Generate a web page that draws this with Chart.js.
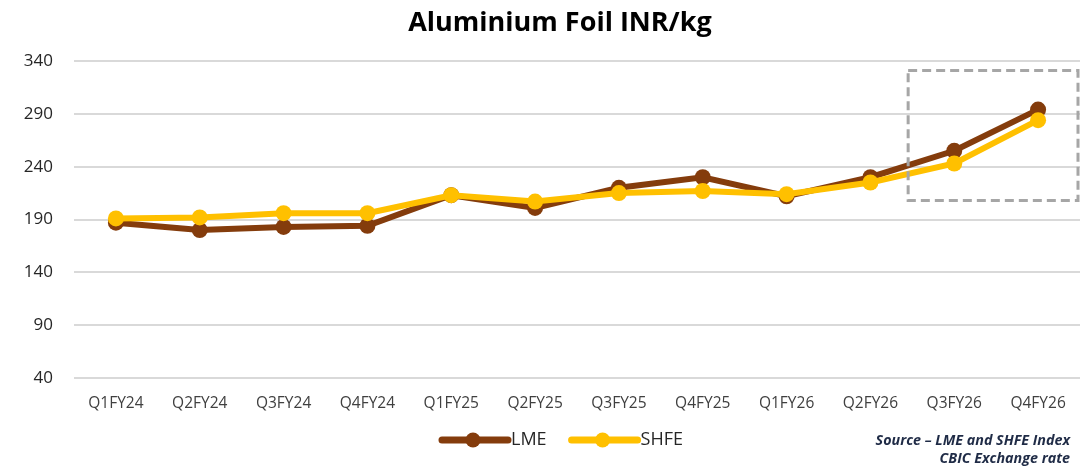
<!DOCTYPE html>
<html>
<head>
<meta charset="utf-8">
<script src="https://cdn.jsdelivr.net/npm/chart.js@4.4.1/dist/chart.umd.min.js"></script>
<style>
  html, body { margin: 0; padding: 0; background: #fff; }
  #wrap { position: relative; width: 1088px; height: 467px; }
  #source {
    position: absolute; right: 18px; top: 431px;
    font-family: "Open Sans", sans-serif; font-size: 14.3px; font-weight: bold; font-style: italic;
    color: #1f2b46; text-align: right; line-height: 18px;
  }
</style>
</head>
<body>
<div id="wrap">
  <canvas id="foilChart" width="1088" height="467"></canvas>
  <div id="source">Source – LME and SHFE Index<br>CBIC Exchange rate</div>
</div>
<script>
// データ
const chartTitle = 'Aluminium Foil INR/kg';
const quarters = ['Q1FY24', 'Q2FY24', 'Q3FY24', 'Q4FY24', 'Q1FY25', 'Q2FY25',
  'Q3FY25', 'Q4FY25', 'Q1FY26', 'Q2FY26', 'Q3FY26', 'Q4FY26'];
const lmeValues = [187, 180, 183, 184, 213, 201, 220, 230, 212, 230, 255, 294];
const shfeValues = [191, 192, 196, 196, 213, 207, 215, 217, 214, 225, 243, 284];
const yTicks = [40, 90, 140, 190, 240, 290, 340];

// 強調枠 (Q2FY26〜Q4FY26 の間, 値 208〜331)
const highlightBox = { fromIndex: 9.45, yLow: 208, yHigh: 331 };

const baseFont = '"Open Sans", "Noto Sans", sans-serif';

// タイトル・枠・凡例を描くプラグイン
const extrasPlugin = {
  id: 'extras',
  afterDraw(chart) {
    const ctx = chart.ctx;
    const xs = chart.scales.x;
    const ys = chart.scales.y;
    const area = chart.chartArea;

    // title
    ctx.save();
    ctx.font = 'bold 27px ' + baseFont;
    ctx.fillStyle = '#000';
    ctx.textAlign = 'center';
    ctx.textBaseline = 'middle';
    ctx.fillText(chartTitle, 560, 23);
    ctx.restore();

    // dashed box
    const x0 = xs.getPixelForValue(highlightBox.fromIndex);
    const y0 = ys.getPixelForValue(highlightBox.yHigh);
    const y1 = ys.getPixelForValue(highlightBox.yLow);
    ctx.save();
    ctx.strokeStyle = '#a6a6a6';
    ctx.lineWidth = 3;
    ctx.setLineDash([9, 5]);
    ctx.strokeRect(x0, y0, area.right - x0 - 2, y1 - y0);
    ctx.restore();

    // legend
    const items = chart.data.datasets;
    const legendY = 440;
    let lx = 442;
    ctx.save();
    ctx.font = '18px ' + baseFont;
    ctx.textBaseline = 'middle';
    items.forEach(ds => {
      ctx.strokeStyle = ds.borderColor;
      ctx.lineWidth = 7;
      ctx.lineCap = 'round';
      ctx.beginPath();
      ctx.moveTo(lx, legendY);
      ctx.lineTo(lx + 66, legendY);
      ctx.stroke();
      ctx.fillStyle = ds.borderColor;
      ctx.beginPath();
      ctx.arc(lx + 31, legendY, 7.5, 0, Math.PI * 2);
      ctx.fill();
      ctx.fillStyle = '#262626';
      ctx.fillText(ds.label, lx + 69, legendY);
      lx += 69 + ctx.measureText(ds.label).width + 25;
    });
    ctx.restore();
  }
};

const ctx = document.getElementById('foilChart').getContext('2d');
const foilChart = new Chart(ctx, {
  type: 'line',
  data: {
    labels: quarters,
    datasets: [
      {
        label: 'LME',
        data: lmeValues,
        borderColor: '#843c0c',
        backgroundColor: '#843c0c',
        borderWidth: 6,
        pointRadius: 8,
        pointBorderWidth: 0,
        tension: 0,
        order: 2
      },
      {
        label: 'SHFE',
        data: shfeValues,
        borderColor: '#ffc000',
        backgroundColor: '#ffc000',
        borderWidth: 6,
        pointRadius: 8,
        pointBorderWidth: 0,
        tension: 0,
        order: 1
      }
    ]
  },
  options: {
    responsive: false,
    animation: false,
    layout: { padding: { left: 0, right: 8, top: 61, bottom: 0 } },
    plugins: {
      legend: { display: false },
      tooltip: { enabled: false },
      title: { display: false }
    },
    scales: {
      x: {
        offset: true,
        grid: { display: false, drawTicks: false },
        border: { display: false },
        ticks: { color: '#404040', font: { family: baseFont, size: 15.5 }, padding: 16, maxRotation: 0 },
        afterFit(scale) { scale.height = 89; }
      },
      y: {
        min: 40,
        max: 340,
        afterBuildTicks(scale) { scale.ticks = yTicks.map(v => ({ value: v })); },
        grid: { color: '#d9d9d9', lineWidth: 2, drawTicks: false },
        border: { display: false },
        ticks: { color: '#262626', font: { family: baseFont, size: 17 }, padding: 21 },
        afterFit(scale) { scale.width = 74; }
      }
    }
  },
  plugins: [extrasPlugin]
});
</script>
</body>
</html>
